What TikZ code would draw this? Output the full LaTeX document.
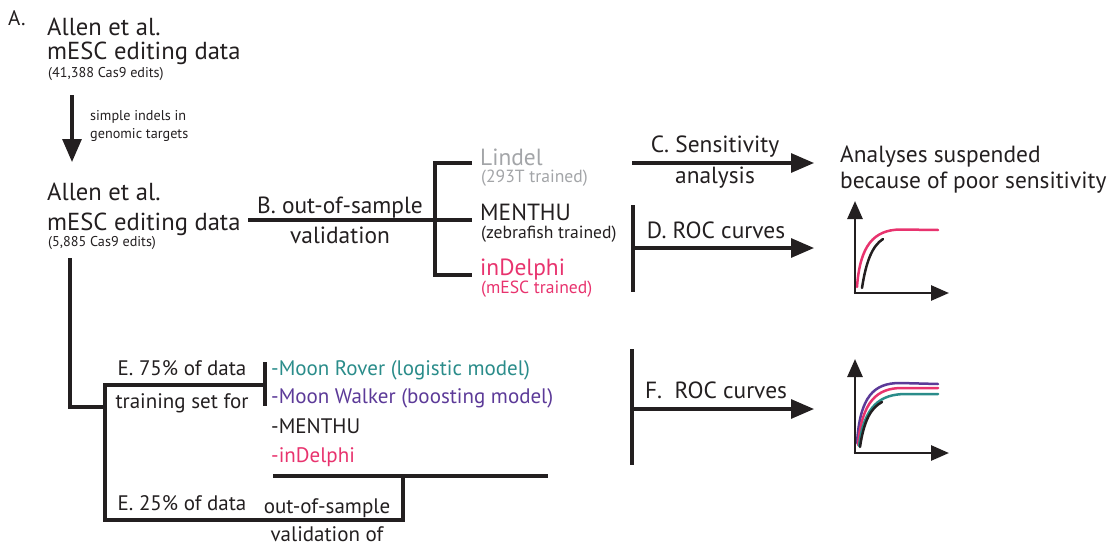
\documentclass[tikz,border=0pt]{standalone}
\usepackage{fontspec}
\setmainfont{PT Sans}
\usetikzlibrary{arrows.meta}
\definecolor{ink}{HTML}{231F20}
\definecolor{lindelgray}{HTML}{A3A5A8}
\definecolor{delphipink}{HTML}{E8336E}
\definecolor{roverteal}{HTML}{2A8C8A}
\definecolor{walkerpurple}{HTML}{5C3A98}
\tikzset{
  big/.style={font=\fontsize{24.6}{29}\selectfont, inner sep=0, text=ink},
  head/.style={font=\fontsize{23.4}{27}\selectfont, inner sep=0, text=ink},
  mid/.style={font=\fontsize{21}{25}\selectfont, inner sep=0, text=ink},
  sub/.style={font=\fontsize{17.6}{21}\selectfont, inner sep=0, text=ink},
  small/.style={font=\fontsize{14.2}{17}\selectfont, inner sep=0, text=ink},
  link/.style={line width=3.1pt, draw=ink},
  bigarrow/.style={link, -{Triangle[length=23pt,width=19pt]}},
  axis/.style={line width=2.8pt, draw=ink, -{Triangle[length=18pt,width=15pt]}},
  roc/.style={line width=2.5pt, line cap=round},
}
\begin{document}
\begin{tikzpicture}[x=1pt,y=-1pt]
\useasboundingbox (0,0) rectangle (1112,546);

% ---- source data ----
\node[mid, anchor=base west] (panelA) at (8,25) {A.};
\node[big, anchor=base west] (allen1) at (47,35) {Allen et al.};
\node[big, anchor=base west] (mesc1) at (47,59) {mESC editing data};
\node[small, anchor=base west] (n1) at (48,77) {(41,388 Cas9 edits)};
\coordinate (fTop) at (72,95);
\coordinate (fBot) at (72,162);
\draw[bigarrow] (fTop) -- (fBot);
\node[small, anchor=base west] (filt1) at (90,120) {simple indels in};
\node[small, anchor=base west] (filt2) at (90,138) {genomic targets};

\node[big, anchor=base west] (allen2) at (47,200) {Allen et al.};
\node[big, anchor=base west] (mesc2) at (47,230) {mESC editing data};
\node[small, anchor=base west] (n2) at (48,246) {(5,885 Cas9 edits)};

% ---- B. out-of-sample validation ----
\coordinate (bStart) at (248,220);
\coordinate (bJoin) at (435,220);
\coordinate (bTop) at (435,163);
\coordinate (bBot) at (435,275);
\coordinate (tLindel) at (472,163);
\coordinate (tMenthu) at (472,220);
\coordinate (tDelphi) at (472,275);
\draw[link] (bStart) -- (bJoin);
\draw[link] (tLindel) -- (bTop) -- (bBot) -- (tDelphi);
\draw[link] (bJoin) -- (tMenthu);
\node[head, anchor=base] (bLab1) at (340,213) {B. out-of-sample};
\node[head, anchor=base] (bLab2) at (340,243) {validation};

\node[head, anchor=base west, text=lindelgray] (lindel) at (480,165) {Lindel};
\node[sub, anchor=base west, text=lindelgray] (lindelT) at (481,182) {(293T trained)};
\node[head, anchor=base west] (menthu) at (480,220) {MENTHU};
\node[sub, anchor=base west] (menthuT) at (481,238) {(zebrafish trained)};
\node[head, anchor=base west, text=delphipink] (delphi) at (480,275) {inDelphi};
\node[sub, anchor=base west, text=delphipink] (delphiT) at (481,293) {(mESC trained)};

% ---- C. sensitivity analysis ----
\coordinate (cStart) at (632,163);
\coordinate (cEnd) at (814,163);
\draw[bigarrow] (cStart) -- (cEnd);
\node[head, anchor=base] (cLab1) at (715,152) {C. Sensitivity};
\node[head, anchor=base] (cLab2) at (715,183) {analysis};
\node[head, anchor=base west] (susp1) at (840,162) {Analyses suspended};
\node[head, anchor=base west] (susp2) at (840,188) {because of poor sensitivity};

% ---- D. ROC curves ----
\coordinate (dTop) at (633,205);
\coordinate (dBot) at (633,292);
\coordinate (dMid) at (633,248);
\coordinate (dEnd) at (814,248);
\draw[link] (dTop) -- (dBot);
\draw[bigarrow] (dMid) -- (dEnd);
\node[head, anchor=base] (dLab) at (716,238) {D. ROC curves};

% small ROC plot for D
\coordinate (p1o) at (855,293);
\coordinate (p1y) at (855,201);
\coordinate (p1x) at (949,293);
\draw[roc, delphipink] (857,287) .. controls (860,245) and (874,230) .. (900,229.5) -- (938,230);
\draw[roc, ink] (862,288) .. controls (866,262) and (872,246) .. (883,239);
\draw[axis] (p1o) -- (p1y);
\draw[axis] ([xshift=-1.4pt]p1o) -- (p1x);

% ---- E. training / validation split ----
\coordinate (eDown) at (70,258);
\coordinate (eCorner) at (70,407);
\coordinate (eJoin) at (105,407);
\coordinate (eTopL) at (105,385);
\coordinate (eTopR) at (265,385);
\coordinate (eBotL) at (105,520);
\coordinate (eBotR) at (403,520);
\coordinate (eUp) at (403,476);
\coordinate (eBarL) at (273,476);
\coordinate (eBarR) at (548,476);
\coordinate (eTickT) at (265,362);
\coordinate (eTickB) at (265,406);
\draw[link] (eDown) -- (eCorner) -- (eJoin);
\draw[link] (eTopR) -- (eTopL) -- (eBotL) -- (eBotR) -- (eUp);
\draw[link] (eTickT) -- (eTickB);
\draw[link] (eBarL) -- (eBarR);

\node[mid, anchor=base] (e75) at (182,375) {E. 75\% of data};
\node[mid, anchor=base] (eTrain) at (182,408) {training set for};
\node[mid, anchor=base] (e25) at (182,510) {E. 25\% of data};
\node[mid, anchor=base] (eVal1) at (327,513) {out-of-sample};
\node[mid, anchor=base] (eVal2) at (327,541) {validation of};

\node[mid, anchor=base west, text=roverteal] (rover) at (271,375) {-Moon Rover (logistic model)};
\node[mid, anchor=base west, text=walkerpurple] (walker) at (271,403) {-Moon Walker (boosting model)};
\node[mid, anchor=base west] (menthu2) at (271,433) {-MENTHU};
\node[mid, anchor=base west, text=delphipink] (delphi2) at (271,462) {-inDelphi};

% ---- F. ROC curves ----
\coordinate (fT) at (632,349);
\coordinate (fB) at (632,465);
\coordinate (fM) at (632,409);
\coordinate (fE) at (814,409);
\draw[link] (fT) -- (fB);
\draw[bigarrow] (fM) -- (fE);
\node[head, anchor=base] (fLab) at (716,398) {F.\ \ ROC curves};

% small ROC plot for F
\coordinate (p2o) at (855,453);
\coordinate (p2y) at (855,359);
\coordinate (p2x) at (949,453);
\draw[roc, walkerpurple] (857,443) .. controls (860,396) and (874,383) .. (900,383) -- (938,384);
\draw[roc, delphipink] (858,445) .. controls (862,401) and (877,388) .. (902,388) -- (938,388);
\draw[roc, roverteal] (859,446) .. controls (864,406) and (880,394) .. (906,394) -- (938,394);
\draw[roc, ink] (860,447) .. controls (864,420) and (871,408) .. (882,402);
\draw[axis] (p2o) -- (p2y);
\draw[axis] ([xshift=-1.4pt]p2o) -- (p2x);
\end{tikzpicture}
\end{document}
